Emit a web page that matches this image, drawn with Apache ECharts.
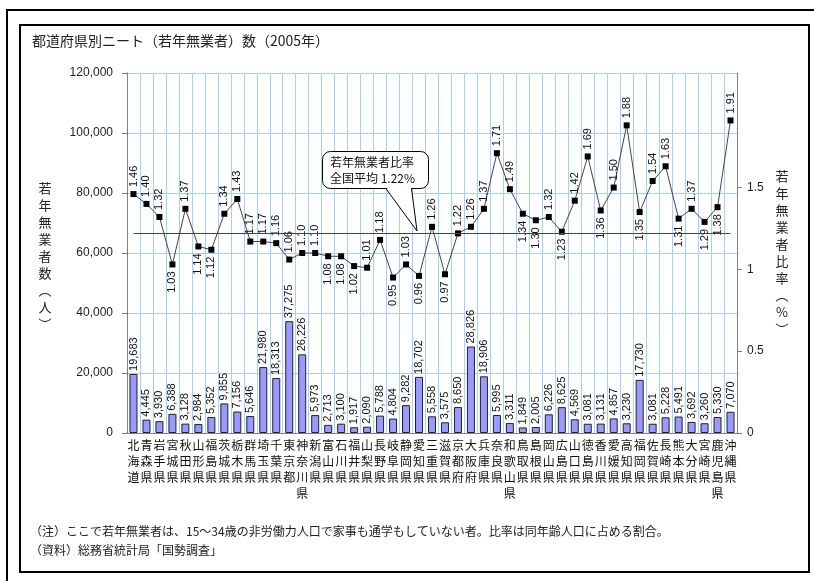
<!DOCTYPE html>
<html>
<head>
<meta charset="utf-8">
<script src="https://cdn.jsdelivr.net/npm/echarts@6/dist/echarts.min.js"></script>
<style>
  html, body { margin: 0; padding: 0; background: #fff; }
  #main { width: 814px; height: 581px; }
</style>
</head>
<body>
<div id="main"></div>
<script>
// 都道府県別ニート数 (2005)
var prefectures = ['北海道', '青森県', '岩手県', '宮城県', '秋田県', '山形県', '福島県', '茨城県', '栃木県', '群馬県',
  '埼玉県', '千葉県', '東京都', '神奈川県', '新潟県', '富山県', '石川県', '福井県', '山梨県', '長野県',
  '岐阜県', '静岡県', '愛知県', '三重県', '滋賀県', '京都府', '大阪府', '兵庫県', '奈良県', '和歌山県',
  '鳥取県', '島根県', '岡山県', '広島県', '山口県', '徳島県', '香川県', '愛媛県', '高知県', '福岡県',
  '佐賀県', '長崎県', '熊本県', '大分県', '宮崎県', '鹿児島県', '沖縄県'];
// 若年無業者数（人）
var neetCount = [19683, 4445, 3930, 6388, 3128, 2984, 5352, 9855, 7156, 5646,
  21980, 18313, 37275, 26226, 5973, 2713, 3100, 1917, 2090, 5788,
  4804, 9282, 18702, 5558, 3575, 8650, 28826, 18906, 5995, 3311,
  1849, 2005, 6226, 8625, 4569, 3081, 3131, 4857, 3230, 17730,
  3081, 5228, 5491, 3692, 3260, 5330, 7070];
// 若年無業者比率（%）
var neetRate = [1.46, 1.40, 1.32, 1.03, 1.37, 1.14, 1.12, 1.34, 1.43, 1.17,
  1.17, 1.16, 1.06, 1.10, 1.10, 1.08, 1.08, 1.02, 1.01, 1.18,
  0.95, 1.03, 0.96, 1.26, 0.97, 1.22, 1.26, 1.37, 1.71, 1.49,
  1.34, 1.30, 1.32, 1.23, 1.42, 1.69, 1.36, 1.50, 1.88, 1.35,
  1.54, 1.63, 1.31, 1.37, 1.29, 1.38, 1.91];
var avgRate = 1.22; // 全国平均
var leftTicks = [0, 20000, 40000, 60000, 80000, 100000, 120000];
var rightTicks = [0, 0.5, 1, 1.5, 2];

// labels of these points are put under the marker
var rateLabelBelow = [3, 5, 6, 15, 16, 17, 20, 22, 24, 30, 31, 33, 36, 39, 42, 44, 45];

var FONT = 'Liberation Sans, "Noto Sans CJK JP", sans-serif';
var JP = '"Noto Sans CJK JP", sans-serif';
var gridColor = '#a3d1ff';

var chart = echarts.init(document.getElementById('main'), null, { renderer: 'canvas' });

var rateData = neetRate.map(function (v, i) {
  var below = rateLabelBelow.indexOf(i) >= 0;
  return {
    value: v,
    label: below ? { position: 'bottom', align: 'right' } : { position: 'top', align: 'left' }
  };
});

var option = {
  animation: false,
  textStyle: { fontFamily: FONT },
  grid: { left: 127, right: 77, top: 73, bottom: 148, containLabel: false },
  xAxis: {
    type: 'category',
    data: prefectures,
    boundaryGap: true,
    axisLine: { lineStyle: { color: '#808080' } },
    axisTick: { show: false },
    splitLine: { show: true, interval: 0, lineStyle: { color: gridColor, width: 1 } },
    axisLabel: {
      interval: 0,
      margin: 4,
      fontSize: 12,
      lineHeight: 16,
      color: '#111',
      fontFamily: JP,
      formatter: function (name) { return name.split('').join('\n'); }
    }
  },
  yAxis: [{
    type: 'value',
    min: 0,
    max: 120000,
    interval: 20000,
    axisLine: { show: true, lineStyle: { color: '#808080' } },
    axisTick: { show: true, length: 5, lineStyle: { color: '#808080' } },
    splitLine: { show: true, lineStyle: { color: gridColor, width: 1 } },
    axisLabel: {
      margin: 14,
      fontSize: 12,
      color: '#222',
      customValues: leftTicks,
      formatter: function (v) { return v.toLocaleString('en-US'); }
    }
  }, {
    type: 'value',
    min: 0,
    max: 2.2,
    interval: 0.5,
    position: 'right',
    axisLine: { show: true, lineStyle: { color: '#808080' } },
    axisTick: { show: true, length: 5, customValues: rightTicks, lineStyle: { color: '#808080' } },
    splitLine: { show: false },
    axisLabel: {
      margin: 10,
      fontSize: 12,
      color: '#222',
      customValues: rightTicks,
      showMaxLabel: false
    }
  }],
  series: [{
    name: '若年無業者数',
    type: 'bar',
    yAxisIndex: 0,
    data: neetCount,
    barWidth: 8,
    itemStyle: { color: '#9999ff', borderColor: '#222', borderWidth: 1 },
    label: {
      show: true,
      position: 'top',
      rotate: 90,
      align: 'left',
      verticalAlign: 'middle',
      distance: 3,
      fontSize: 11,
      color: '#111',
      formatter: function (p) { return p.value.toLocaleString('en-US'); }
    },
    z: 2
  }, {
    name: '若年無業者比率',
    type: 'line',
    yAxisIndex: 1,
    data: rateData,
    symbol: 'rect',
    symbolSize: 6,
    itemStyle: { color: '#000' },
    lineStyle: { color: '#444', width: 1 },
    label: {
      show: true,
      rotate: 90,
      verticalAlign: 'middle',
      distance: 4,
      fontSize: 11,
      color: '#111',
      formatter: function (p) { return p.value.toFixed(2); }
    },
    markLine: {
      silent: true,
      symbol: 'none',
      label: { show: false },
      lineStyle: { color: '#444', width: 1, type: 'solid' },
      data: [[
        { coord: [prefectures[0], avgRate] },
        { coord: [prefectures[prefectures.length - 1], avgRate] }
      ]]
    },
    z: 3
  }],
  graphic: [
    // frames
    { type: 'rect', shape: { x: 7, y: 10, width: 830, height: 600 }, style: { fill: 'none', stroke: '#000', lineWidth: 2 }, silent: true },
    { type: 'rect', shape: { x: 20, y: 25, width: 789, height: 547 }, style: { fill: 'none', stroke: '#000', lineWidth: 2 }, silent: true },
    // title
    { type: 'text', left: 32, top: 34, style: { text: '都道府県別ニート（若年無業者）数（2005年）', font: '14px ' + JP, fill: '#222' } },
    // axis names (vertical)
    { type: 'text', x: 45, y: 180, style: { text: '若\n年\n無\n業\n者\n数\n︵\n人\n︶', font: '13px ' + JP, lineHeight: 17, align: 'center', fill: '#222' } },
    { type: 'text', x: 782, y: 168, style: { text: '若\n年\n無\n業\n者\n比\n率\n︵\n%\n︶', font: '13px ' + JP, lineHeight: 17, align: 'center', fill: '#222' } },
    // callout
    { type: 'rect', shape: { x: 322.5, y: 151.5, width: 106, height: 37, r: 8 }, style: { fill: '#fff', stroke: '#000', lineWidth: 1 }, z: 50 },
    { type: 'polygon', shape: { points: [[386, 187], [417, 231], [411, 187]] }, style: { fill: '#fff', stroke: null }, z: 51 },
    { type: 'polyline', shape: { points: [[385.5, 188], [417, 231], [411.5, 188.5]] }, style: { stroke: '#000', lineWidth: 1, fill: null }, z: 52 },
    { type: 'text', x: 330, y: 154, z: 53, style: { text: '若年無業者比率\n全国平均 1.22%', font: '12px ' + JP, lineHeight: 16, fill: '#111' } },
    // notes
    { type: 'text', left: 30, top: 525, style: { text: '（注）ここで若年無業者は、15～34歳の非労働力人口で家事も通学もしていない者。比率は同年齢人口に占める割合。', font: '12px ' + JP, fill: '#222' } },
    { type: 'text', left: 30, top: 544, style: { text: '（資料）総務省統計局「国勢調査」', font: '12px ' + JP, fill: '#222' } }
  ]
};

chart.setOption(option);
</script>
</body>
</html>
